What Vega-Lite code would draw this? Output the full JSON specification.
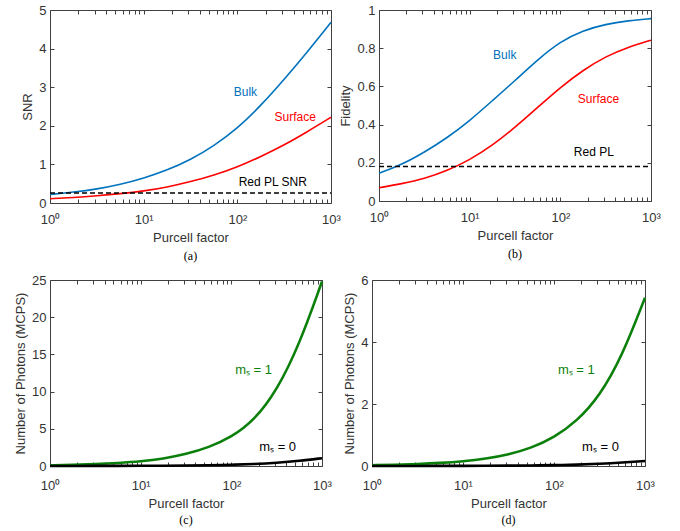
{
  "$schema": "https://vega.github.io/schema/vega-lite/v6.json",
  "padding": {"left": 14, "top": 3, "right": 0, "bottom": 0},
  "config": {
    "font": "Liberation Sans",
    "view": {"stroke": "#404040", "strokeWidth": 1},
    "axis": {"grid": false, "domain": false, "tickColor": "#404040", "tickSize": -4, "labelPadding": 8, "labelColor": "#333333", "titleColor": "#333333", "labelFont": "Liberation Sans", "titleFont": "Liberation Sans", "labelFontSize": 13, "titleFontSize": 13, "titleFontWeight": "normal", "labelFlush": false, "labelOverlap": false},
    "axisX": {"labelPadding": 14, "titlePadding": 5},
    "text": {"font": "Liberation Sans", "fontSize": 12}
  },
  "datasets": {
    "a_lines": [
      {"P":1,"s":"Bulk","v":0.22},{"P":1.778,"s":"Bulk","v":0.28},{"P":3.162,"s":"Bulk","v":0.36},{"P":5.623,"s":"Bulk","v":0.48},{"P":10,"s":"Bulk","v":0.64},{"P":17.78,"s":"Bulk","v":0.85},{"P":31.62,"s":"Bulk","v":1.12},{"P":56.23,"s":"Bulk","v":1.48},{"P":100,"s":"Bulk","v":1.93},{"P":177.8,"s":"Bulk","v":2.52},{"P":316.2,"s":"Bulk","v":3.2},{"P":562.3,"s":"Bulk","v":3.92},{"P":1000,"s":"Bulk","v":4.68},
      {"P":1,"s":"Surface","v":0.11},{"P":1.778,"s":"Surface","v":0.14},{"P":3.162,"s":"Surface","v":0.185},{"P":5.623,"s":"Surface","v":0.24},{"P":10,"s":"Surface","v":0.31},{"P":17.78,"s":"Surface","v":0.41},{"P":31.62,"s":"Surface","v":0.55},{"P":56.23,"s":"Surface","v":0.72},{"P":100,"s":"Surface","v":0.93},{"P":177.8,"s":"Surface","v":1.2},{"P":316.2,"s":"Surface","v":1.5},{"P":562.3,"s":"Surface","v":1.85},{"P":1000,"s":"Surface","v":2.22}
    ],
    "a_dash": [{"P":1,"s":"Red","v":0.26},{"P":1000,"s":"Red","v":0.26}],
    "a_text": [
      {"P":122,"v":2.87,"s":"Bulk","label":"Bulk"},
      {"P":414,"v":2.22,"s":"Surface","label":"Surface"},
      {"P":239,"v":0.545,"s":"Red","label":"Red PL SNR"}
    ],
    "b_lines": [
      {"P":1,"s":"Bulk","v":0.145},{"P":1.778,"s":"Bulk","v":0.19},{"P":3.162,"s":"Bulk","v":0.255},{"P":5.623,"s":"Bulk","v":0.33},{"P":10,"s":"Bulk","v":0.42},{"P":17.78,"s":"Bulk","v":0.525},{"P":31.62,"s":"Bulk","v":0.63},{"P":56.23,"s":"Bulk","v":0.74},{"P":100,"s":"Bulk","v":0.835},{"P":177.8,"s":"Bulk","v":0.893},{"P":316.2,"s":"Bulk","v":0.926},{"P":562.3,"s":"Bulk","v":0.944},{"P":1000,"s":"Bulk","v":0.955},
      {"P":1,"s":"Surface","v":0.069},{"P":1.778,"s":"Surface","v":0.09},{"P":3.162,"s":"Surface","v":0.116},{"P":5.623,"s":"Surface","v":0.158},{"P":10,"s":"Surface","v":0.215},{"P":17.78,"s":"Surface","v":0.29},{"P":31.62,"s":"Surface","v":0.385},{"P":56.23,"s":"Surface","v":0.49},{"P":100,"s":"Surface","v":0.595},{"P":177.8,"s":"Surface","v":0.685},{"P":316.2,"s":"Surface","v":0.757},{"P":562.3,"s":"Surface","v":0.806},{"P":1000,"s":"Surface","v":0.842}
    ],
    "b_dash": [{"P":1,"s":"Red","v":0.18},{"P":1000,"s":"Red","v":0.18}],
    "b_text": [
      {"P":24.4,"v":0.762,"s":"Bulk","label":"Bulk"},
      {"P":263,"v":0.536,"s":"Surface","label":"Surface"},
      {"P":234,"v":0.258,"s":"Red","label":"Red PL"}
    ],
    "c_lines": [
      {"P":1,"s":"m1","v":0.1},{"P":1.778,"s":"m1","v":0.16},{"P":3.162,"s":"m1","v":0.25},{"P":5.623,"s":"m1","v":0.4},{"P":10,"s":"m1","v":0.6},{"P":17.78,"s":"m1","v":0.98},{"P":31.62,"s":"m1","v":1.58},{"P":56.23,"s":"m1","v":2.5},{"P":100,"s":"m1","v":3.85},{"P":177.8,"s":"m1","v":6.1},{"P":316.2,"s":"m1","v":10.1},{"P":562.3,"s":"m1","v":16.3},{"P":1000,"s":"m1","v":24.8},
      {"P":1,"s":"m0","v":0.004},{"P":1.778,"s":"m0","v":0.0066},{"P":3.162,"s":"m0","v":0.0105},{"P":5.623,"s":"m0","v":0.017},{"P":10,"s":"m0","v":0.026},{"P":17.78,"s":"m0","v":0.041},{"P":31.62,"s":"m0","v":0.066},{"P":56.23,"s":"m0","v":0.105},{"P":100,"s":"m0","v":0.165},{"P":177.8,"s":"m0","v":0.26},{"P":316.2,"s":"m0","v":0.42},{"P":562.3,"s":"m0","v":0.68},{"P":1000,"s":"m0","v":1.05}
    ],
    "c_text": [
      {"P":176,"v":12.9,"s":"m1","label":"mₛ = 1"},
      {"P":324,"v":2.56,"s":"m0","label":"mₛ = 0"}
    ],
    "d_lines": [
      {"P":1,"s":"m1","v":0.026},{"P":1.778,"s":"m1","v":0.04},{"P":3.162,"s":"m1","v":0.062},{"P":5.623,"s":"m1","v":0.097},{"P":10,"s":"m1","v":0.15},{"P":17.78,"s":"m1","v":0.235},{"P":31.62,"s":"m1","v":0.37},{"P":56.23,"s":"m1","v":0.58},{"P":100,"s":"m1","v":0.92},{"P":177.8,"s":"m1","v":1.44},{"P":316.2,"s":"m1","v":2.25},{"P":562.3,"s":"m1","v":3.55},{"P":1000,"s":"m1","v":5.43},
      {"P":1,"s":"m0","v":0.0008},{"P":1.778,"s":"m0","v":0.0012},{"P":3.162,"s":"m0","v":0.0019},{"P":5.623,"s":"m0","v":0.0029},{"P":10,"s":"m0","v":0.0045},{"P":17.78,"s":"m0","v":0.007},{"P":31.62,"s":"m0","v":0.011},{"P":56.23,"s":"m0","v":0.017},{"P":100,"s":"m0","v":0.028},{"P":177.8,"s":"m0","v":0.043},{"P":316.2,"s":"m0","v":0.068},{"P":562.3,"s":"m0","v":0.108},{"P":1000,"s":"m0","v":0.163}
    ],
    "d_text": [
      {"P":176,"v":3.11,"s":"m1","label":"mₛ = 1"},
      {"P":324,"v":0.61,"s":"m0","label":"mₛ = 0"}
    ]
  },
  "spacing": 270,
  "bounds": "flush",
  "resolve": {"scale": {"color": "independent"}},
  "vconcat": [
    {
      "spacing": 48,
      "bounds": "flush",
      "resolve": {"scale": {"color": "independent"}},
      "hconcat": [
        {
          "width": 281, "height": 193,
          "title": {"text": "(a)", "orient": "bottom", "font": "Liberation Serif", "fontSize": 12, "fontWeight": "normal", "color": "#000000", "offset": 7},
          "resolve": {"axis": {"x": "independent", "y": "independent"}},
          "layer": [
            {
              "data": {"name": "a_lines"},
              "mark": {"type": "line", "strokeWidth": 1.6, "interpolate": "basis"},
              "encoding": {
                "x": {"field": "P", "type": "quantitative", "scale": {"type": "log", "domain": [1, 1000]}, "axis": {"orient": "bottom", "title": "Purcell factor", "values": [1,2,3,4,5,6,7,8,9,10,20,30,40,50,60,70,80,90,100,200,300,400,500,600,700,800,900,1000], "labelExpr": "datum.value==1?'10⁰':datum.value==10?'10¹':datum.value==100?'10²':datum.value==1000?'10³':''"}},
                "y": {"field": "v", "type": "quantitative", "scale": {"domain": [0, 5], "nice": false}, "axis": {"orient": "left", "title": "SNR", "values": [0,1,2,3,4,5]}},
                "color": {"field": "s", "type": "nominal", "scale": {"domain": ["Bulk", "Surface", "Red"], "range": ["#0072BD", "#FF0000", "#000000"]}, "legend": null}
              }
            },
            {
              "data": {"name": "a_dash"},
              "mark": {"type": "line", "strokeWidth": 1.5, "strokeDash": [5, 3]},
              "encoding": {
                "x": {"field": "P", "type": "quantitative", "scale": {"type": "log", "domain": [1, 1000]}, "axis": null},
                "y": {"field": "v", "type": "quantitative", "scale": {"domain": [0, 5], "nice": false}, "axis": null},
                "color": {"field": "s", "type": "nominal", "legend": null}
              }
            },
            {
              "data": {"name": "a_text"},
              "mark": {"type": "text", "align": "center", "baseline": "middle"},
              "encoding": {
                "x": {"field": "P", "type": "quantitative", "scale": {"type": "log", "domain": [1, 1000]}, "axis": {"orient": "top", "title": null, "labels": false, "values": [1,2,3,4,5,6,7,8,9,10,20,30,40,50,60,70,80,90,100,200,300,400,500,600,700,800,900,1000]}},
                "y": {"field": "v", "type": "quantitative", "scale": {"domain": [0, 5], "nice": false}, "axis": {"orient": "right", "title": null, "labels": false, "values": [0,1,2,3,4,5]}},
                "text": {"field": "label"},
                "color": {"field": "s", "type": "nominal", "legend": null}
              }
            }
          ]
        },
        {
          "width": 272, "height": 191,
          "title": {"text": "(b)", "orient": "bottom", "font": "Liberation Serif", "fontSize": 12, "fontWeight": "normal", "color": "#000000", "offset": 7},
          "resolve": {"axis": {"x": "independent", "y": "independent"}},
          "layer": [
            {
              "data": {"name": "b_lines"},
              "mark": {"type": "line", "strokeWidth": 1.6, "interpolate": "basis"},
              "encoding": {
                "x": {"field": "P", "type": "quantitative", "scale": {"type": "log", "domain": [1, 1000]}, "axis": {"orient": "bottom", "title": "Purcell factor", "values": [1,2,3,4,5,6,7,8,9,10,20,30,40,50,60,70,80,90,100,200,300,400,500,600,700,800,900,1000], "labelExpr": "datum.value==1?'10⁰':datum.value==10?'10¹':datum.value==100?'10²':datum.value==1000?'10³':''"}},
                "y": {"field": "v", "type": "quantitative", "scale": {"domain": [0, 1], "nice": false}, "axis": {"orient": "left", "title": "Fidelity", "values": [0,0.2,0.4,0.6,0.8,1], "labelExpr": "datum.value==0?'0':datum.value==1?'1':format(datum.value,'.1f')"}},
                "color": {"field": "s", "type": "nominal", "scale": {"domain": ["Bulk", "Surface", "Red"], "range": ["#0072BD", "#FF0000", "#000000"]}, "legend": null}
              }
            },
            {
              "data": {"name": "b_dash"},
              "mark": {"type": "line", "strokeWidth": 1.5, "strokeDash": [5, 3]},
              "encoding": {
                "x": {"field": "P", "type": "quantitative", "scale": {"type": "log", "domain": [1, 1000]}, "axis": null},
                "y": {"field": "v", "type": "quantitative", "scale": {"domain": [0, 1], "nice": false}, "axis": null},
                "color": {"field": "s", "type": "nominal", "legend": null}
              }
            },
            {
              "data": {"name": "b_text"},
              "mark": {"type": "text", "align": "center", "baseline": "middle"},
              "encoding": {
                "x": {"field": "P", "type": "quantitative", "scale": {"type": "log", "domain": [1, 1000]}, "axis": {"orient": "top", "title": null, "labels": false, "values": [1,2,3,4,5,6,7,8,9,10,20,30,40,50,60,70,80,90,100,200,300,400,500,600,700,800,900,1000]}},
                "y": {"field": "v", "type": "quantitative", "scale": {"domain": [0, 1], "nice": false}, "axis": {"orient": "right", "title": null, "labels": false, "values": [0,0.2,0.4,0.6,0.8,1]}},
                "text": {"field": "label"},
                "color": {"field": "s", "type": "nominal", "legend": null}
              }
            }
          ]
        }
      ]
    },
    {
      "spacing": 50,
      "bounds": "flush",
      "resolve": {"scale": {"color": "independent"}},
      "hconcat": [
        {
          "width": 272, "height": 186,
          "title": {"text": "(c)", "orient": "bottom", "font": "Liberation Serif", "fontSize": 12, "fontWeight": "normal", "color": "#000000", "offset": 5},
          "resolve": {"axis": {"x": "independent", "y": "independent"}},
          "layer": [
            {
              "data": {"name": "c_lines"},
              "mark": {"type": "line", "strokeWidth": 2.6, "interpolate": "basis"},
              "encoding": {
                "x": {"field": "P", "type": "quantitative", "scale": {"type": "log", "domain": [1, 1000]}, "axis": {"orient": "bottom", "title": "Purcell factor", "labelPadding": 17, "values": [1,2,3,4,5,6,7,8,9,10,20,30,40,50,60,70,80,90,100,200,300,400,500,600,700,800,900,1000], "labelExpr": "datum.value==1?'10⁰':datum.value==10?'10¹':datum.value==100?'10²':datum.value==1000?'10³':''"}},
                "y": {"field": "v", "type": "quantitative", "scale": {"domain": [0, 25], "nice": false}, "axis": {"orient": "left", "title": "Number of Photons (MCPS)", "values": [0,5,10,15,20,25]}},
                "color": {"field": "s", "type": "nominal", "scale": {"domain": ["m1", "m0"], "range": ["#0A7F0A", "#000000"]}, "legend": null}
              }
            },
            {
              "data": {"name": "c_text"},
              "mark": {"type": "text", "align": "center", "baseline": "middle", "fontSize": 13},
              "encoding": {
                "x": {"field": "P", "type": "quantitative", "scale": {"type": "log", "domain": [1, 1000]}, "axis": {"orient": "top", "title": null, "labels": false, "values": [1,2,3,4,5,6,7,8,9,10,20,30,40,50,60,70,80,90,100,200,300,400,500,600,700,800,900,1000]}},
                "y": {"field": "v", "type": "quantitative", "scale": {"domain": [0, 25], "nice": false}, "axis": {"orient": "right", "title": null, "labels": false, "values": [0,5,10,15,20,25]}},
                "text": {"field": "label"},
                "color": {"field": "s", "type": "nominal", "legend": null}
              }
            }
          ]
        },
        {
          "width": 273, "height": 186,
          "title": {"text": "(d)", "orient": "bottom", "font": "Liberation Serif", "fontSize": 12, "fontWeight": "normal", "color": "#000000", "offset": 5},
          "resolve": {"axis": {"x": "independent", "y": "independent"}},
          "layer": [
            {
              "data": {"name": "d_lines"},
              "mark": {"type": "line", "strokeWidth": 2.6, "interpolate": "basis"},
              "encoding": {
                "x": {"field": "P", "type": "quantitative", "scale": {"type": "log", "domain": [1, 1000]}, "axis": {"orient": "bottom", "title": "Purcell factor", "labelPadding": 17, "values": [1,2,3,4,5,6,7,8,9,10,20,30,40,50,60,70,80,90,100,200,300,400,500,600,700,800,900,1000], "labelExpr": "datum.value==1?'10⁰':datum.value==10?'10¹':datum.value==100?'10²':datum.value==1000?'10³':''"}},
                "y": {"field": "v", "type": "quantitative", "scale": {"domain": [0, 6], "nice": false}, "axis": {"orient": "left", "title": "Number of Photons (MCPS)", "values": [0,2,4,6]}},
                "color": {"field": "s", "type": "nominal", "scale": {"domain": ["m1", "m0"], "range": ["#0A7F0A", "#000000"]}, "legend": null}
              }
            },
            {
              "data": {"name": "d_text"},
              "mark": {"type": "text", "align": "center", "baseline": "middle", "fontSize": 13},
              "encoding": {
                "x": {"field": "P", "type": "quantitative", "scale": {"type": "log", "domain": [1, 1000]}, "axis": {"orient": "top", "title": null, "labels": false, "values": [1,2,3,4,5,6,7,8,9,10,20,30,40,50,60,70,80,90,100,200,300,400,500,600,700,800,900,1000]}},
                "y": {"field": "v", "type": "quantitative", "scale": {"domain": [0, 6], "nice": false}, "axis": {"orient": "right", "title": null, "labels": false, "values": [0,2,4,6]}},
                "text": {"field": "label"},
                "color": {"field": "s", "type": "nominal", "legend": null}
              }
            }
          ]
        }
      ]
    }
  ]
}
